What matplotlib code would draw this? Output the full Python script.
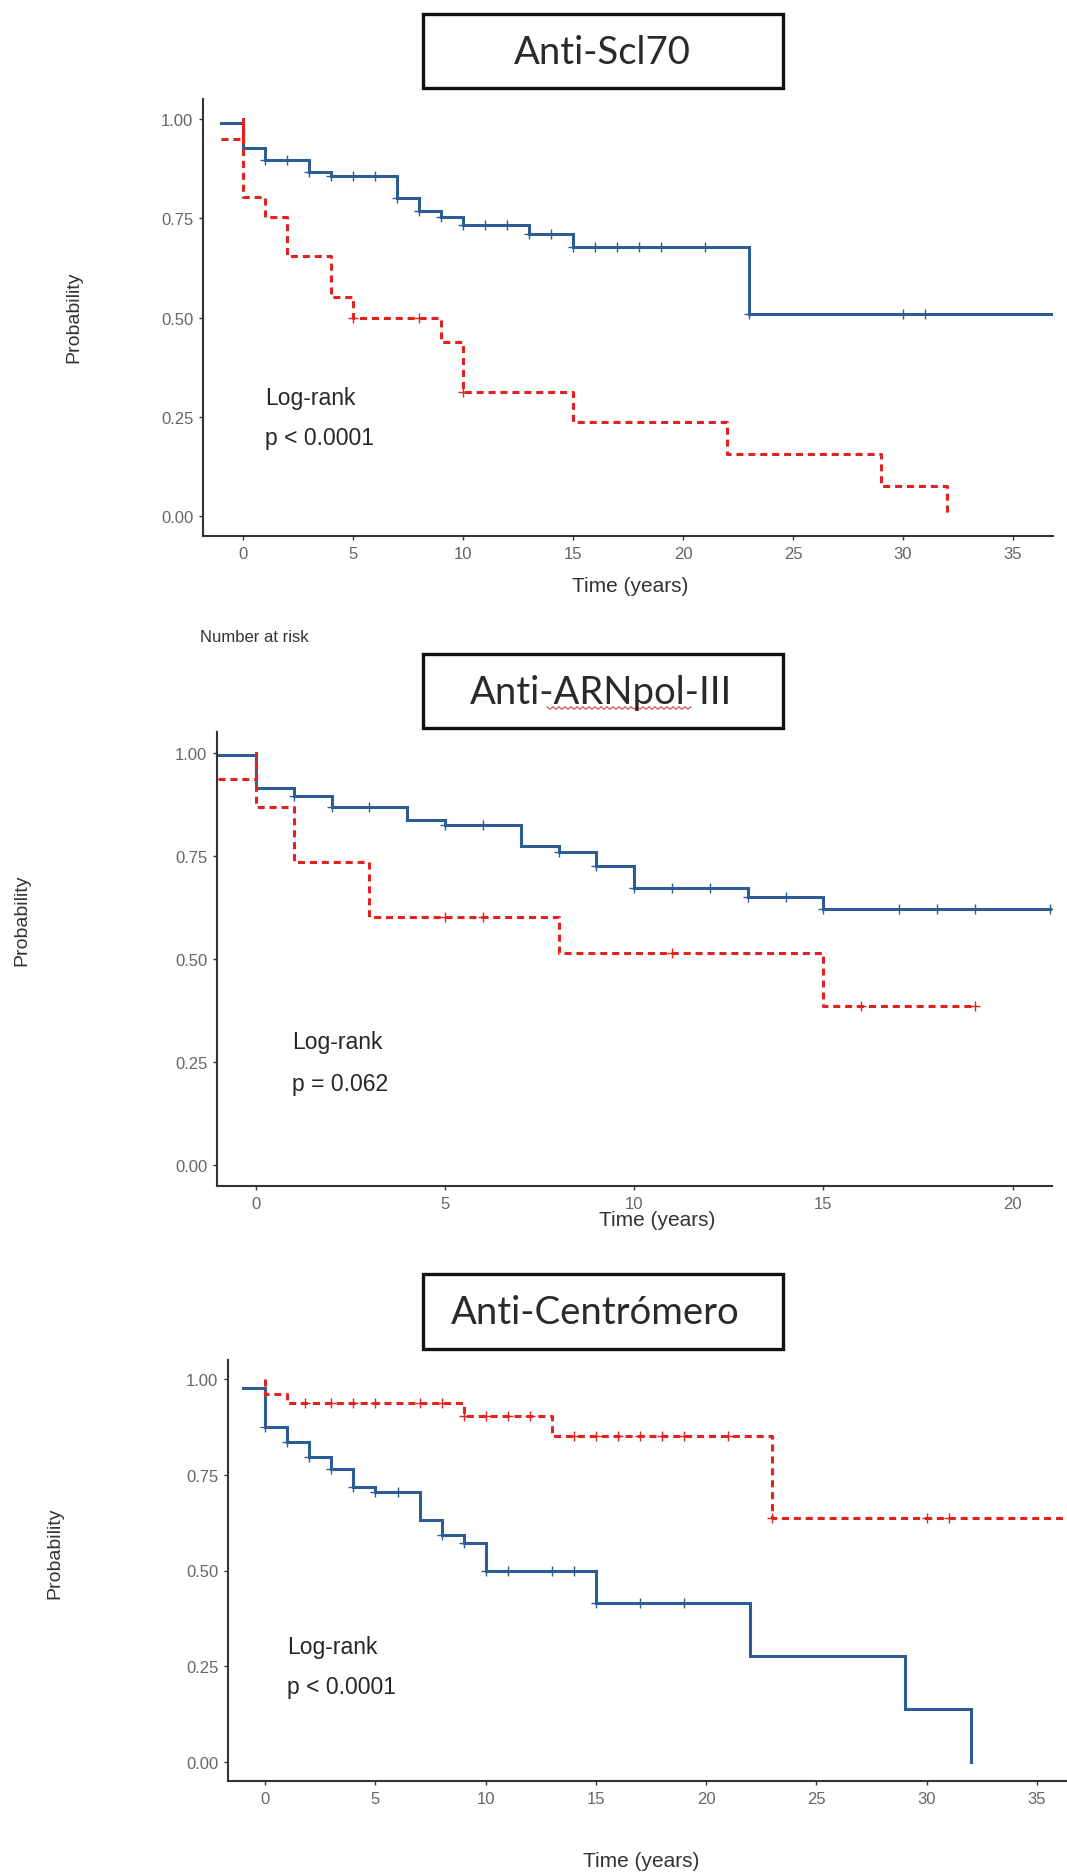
import numpy as np
import matplotlib
matplotlib.use("Agg")
import matplotlib.pyplot as plt
from matplotlib.patches import Rectangle
from matplotlib.lines import Line2D

W, H = 1067, 1874

# ---- data ----
# Anti-Scl70
scl_blue_t = [-1, 0, 1, 3, 4, 7, 8, 9, 10, 13, 15, 23, 36.8]
scl_blue_s = [0.99, 0.927, 0.897, 0.866, 0.855, 0.80, 0.769, 0.752, 0.734, 0.709, 0.678, 0.509, 0.509]
scl_blue_cens = [1, 2, 3, 4, 5, 6, 7, 8, 9, 10, 11, 12, 13, 14, 15, 16, 17, 18, 19, 21, 23, 30, 31]
scl_red_t = [-1, 0, 0, 1, 2, 4, 5, 9, 10, 15, 22, 29, 32]
scl_red_s = [0.95, 1.0, 0.803, 0.752, 0.656, 0.551, 0.499, 0.4375, 0.312, 0.236, 0.156, 0.076, 0.0]
scl_red_cens = [5, 8, 10]

# Anti-ARNpol-III
arn_blue_t = [-1, 0, 1, 2, 4, 5, 7, 8, 9, 10, 13, 15, 21]
arn_blue_s = [0.994, 0.914, 0.896, 0.869, 0.836, 0.824, 0.774, 0.760, 0.726, 0.672, 0.650, 0.621, 0.621]
arn_blue_cens = [1, 2, 3, 5, 6, 8, 9, 10, 11, 12, 13, 14, 15, 17, 18, 19, 21]
arn_red_t = [-1, 0, 0, 1, 3, 8, 15, 19]
arn_red_s = [0.935, 1.0, 0.869, 0.735, 0.601, 0.515, 0.387, 0.387]
arn_red_cens = [5, 6, 11, 16, 19]

# Anti-Centromero
cen_blue_t = [-1, 0, 1, 2, 3, 4, 5, 7, 8, 9, 10, 15, 22, 29, 32]
cen_blue_s = [0.976, 0.876, 0.836, 0.796, 0.765, 0.719, 0.704, 0.632, 0.594, 0.571, 0.50, 0.416, 0.2765, 0.137, 0.0]
cen_blue_cens = [0, 1, 2, 3, 4, 5, 6, 8, 9, 10, 11, 13, 14, 15, 17, 19]
cen_red_t = [0, 0, 1, 9, 13, 23, 36.4]
cen_red_s = [1.0, 0.961, 0.937, 0.903, 0.852, 0.637, 0.637]
cen_red_cens = [1.8, 3, 4, 5, 7, 8, 9, 10, 11, 12, 14, 15, 16, 17, 18, 19, 21, 23, 30, 31]

titles = ["Anti-Scl70", "Anti-ARNpol-III", "Anti-Centrómero"]
pvals = ["p < 0.0001", "p = 0.062", "p < 0.0001"]

BLUE = "#2d5d94"
RED = "#e3211f"
GREY = "#666666"
AX = "#333333"

fig = plt.figure(figsize=(W / 100, H / 100), dpi=100)
fig.patch.set_facecolor("white")


def fx(x):
    return x / W


def fy(y):
    return 1 - y / H


def px_axes(left, right, top, bottom):
    return fig.add_axes([fx(left), fy(bottom), (right - left) / W, (bottom - top) / H])


def surv_at(t, s, c):
    t = np.asarray(t)
    s = np.asarray(s)
    idx = np.searchsorted(t, c, side="right") - 1
    return s[np.clip(idx, 0, len(s) - 1)]


def km_panel(ax, bt, bs, bc, rt, rs, rc, xlim, xticks):
    ax.step(bt, bs, where="post", color=BLUE, lw=2.2, solid_joinstyle="miter")
    ax.step(rt, rs, where="post", color=RED, lw=2.2, dashes=(2.3, 1.6))
    ax.plot(bc, surv_at(bt, bs, bc), ls="none", marker="+", ms=7, mew=1.0, color=BLUE)
    ax.plot(rc, surv_at(rt, rs, rc), ls="none", marker="+", ms=7, mew=1.0, color=RED)
    ax.set_xlim(*xlim)
    ax.set_ylim(-0.05, 1.05)
    ax.set_xticks(xticks)
    ax.set_yticks([0, 0.25, 0.5, 0.75, 1.0])
    ax.set_yticklabels(["0.00", "0.25", "0.50", "0.75", "1.00"])
    for sp in ["top", "right"]:
        ax.spines[sp].set_visible(False)
    for sp in ["left", "bottom"]:
        ax.spines[sp].set_color(AX)
        ax.spines[sp].set_linewidth(1.5)
    ax.tick_params(colors=AX, labelcolor=GREY, length=3, width=1, pad=4, labelsize=12)
    for lab in ax.get_xticklabels() + ax.get_yticklabels():
        lab.set_family("Liberation Sans")
    ax.set_facecolor("none")


# panel frames in pixel coordinates: left, right, top, bottom
ax1 = px_axes(203, 1053, 100, 537)
km_panel(ax1, scl_blue_t, scl_blue_s, scl_blue_cens, scl_red_t, scl_red_s, scl_red_cens,
         (-1.82, 36.82), [0, 5, 10, 15, 20, 25, 30, 35])

ax2 = px_axes(217, 1052, 733, 1187)
km_panel(ax2, arn_blue_t, arn_blue_s, arn_blue_cens, arn_red_t, arn_red_s, arn_red_cens,
         (-1.03, 21.04), [0, 5, 10, 15, 20])

ax3 = px_axes(228, 1067, 1361, 1782)
km_panel(ax3, cen_blue_t, cen_blue_s, cen_blue_cens, cen_red_t, cen_red_s, cen_red_cens,
         (-1.69, 36.37), [0, 5, 10, 15, 20, 25, 30, 35])

# title boxes
boxes = [(423, 15, 783, 89, 602), (423, 655, 783, 729, 601), (423, 1275, 783, 1350, 595)]
for (l, t, r, b, cx), title in zip(boxes, titles):
    fig.add_artist(Rectangle((fx(l), fy(b)), (r - l) / W, (b - t) / H, transform=fig.transFigure,
                             fill=False, edgecolor="#111111", lw=2.4))
    fig.text(fx(cx), fy((t + b) / 2 + 1), title, ha="center", va="center", fontsize=27.5,
             family="Lato", color="#2a2a2a")

# spell-check squiggle under "ARNpol"
sq_x = np.arange(547, 693, 3.0)
sq_y = 709 + np.where(np.arange(len(sq_x)) % 2 == 0, -1.2, 1.2)
fig.add_artist(Line2D(fx(sq_x), fy(sq_y), transform=fig.transFigure, color="#d9534f", lw=0.9))

# axis labels and annotations
sans = "Liberation Sans"
ylabel_pos = [(74, 317), (22, 920), (55, 1553)]
xlabel_pos = [(630, 586), (657, 1220), (641, 1862)]
logrank_pos = [(265, 398, 438), (292, 1043, 1085), (287, 1648, 1688)]
for (x, y) in ylabel_pos:
    fig.text(fx(x), fy(y), "Probability", rotation=90, ha="center", va="center",
             fontsize=14, family=sans, color="#333333")
for (x, y) in xlabel_pos:
    fig.text(fx(x), fy(y), "Time (years)", ha="center", va="center",
             fontsize=15, family=sans, color="#333333")
for (x, y1, y2), p in zip(logrank_pos, pvals):
    fig.text(fx(x), fy(y1), "Log-rank", ha="left", va="center", fontsize=16.5,
             family=sans, color="#262626")
    fig.text(fx(x), fy(y2), p, ha="left", va="center", fontsize=16.5,
             family=sans, color="#262626")

fig.text(fx(200), fy(637), "Number at risk", ha="left", va="center", fontsize=12,
         family=sans, color="#333333")

fig.savefig("out.png", dpi=100)
